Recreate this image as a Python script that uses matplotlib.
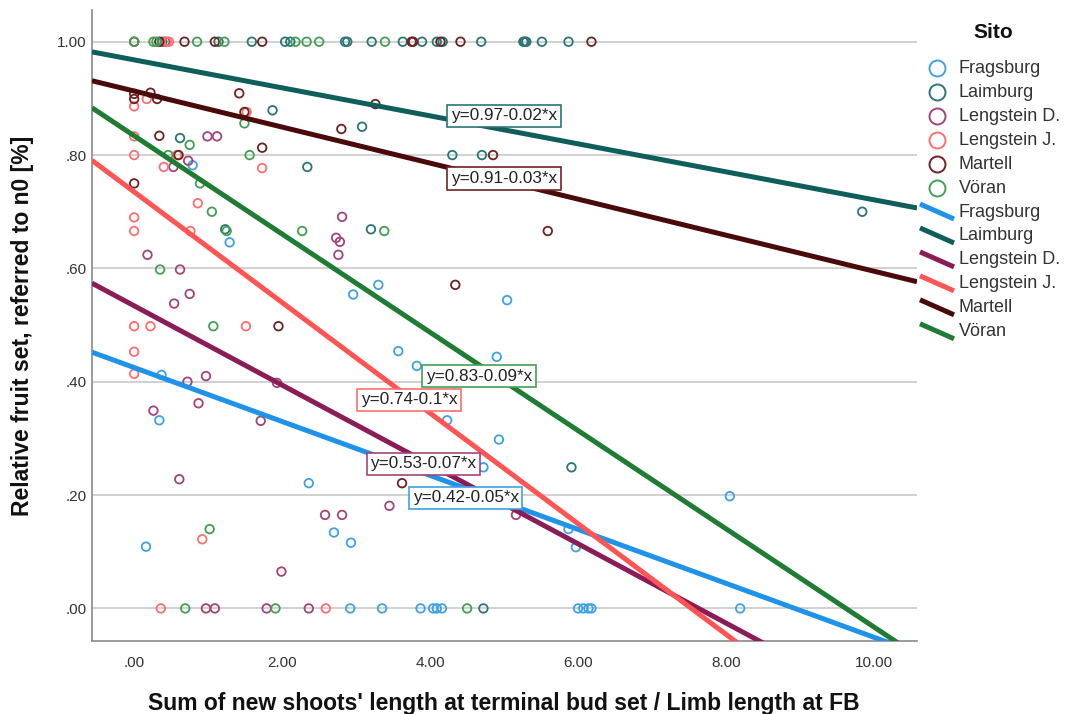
import matplotlib
matplotlib.use("Agg")
import matplotlib.pyplot as plt
from matplotlib.lines import Line2D
import numpy as np

plt.rcParams['font.family'] = ['Liberation Sans', 'DejaVu Sans']

# ---------------- data ----------------
sites = ["Fragsburg", "Laimburg", "Lengstein D.", "Lengstein J.", "Martell", "Vöran"]

frag_x = [0.79, 1.29, 3.30, 2.96, 5.04, 3.57, 3.82, 4.90, 0.37, 4.23, 0.34, 4.93, 4.72, 2.36,
          8.05, 5.87, 2.70, 2.93, 0.16, 5.97,
          2.92, 3.35, 3.87, 4.04, 4.09, 4.16, 6.00, 6.07, 6.14, 6.18, 8.19]
frag_y = [0.782, 0.646, 0.571, 0.554, 0.544, 0.454, 0.428, 0.444, 0.412, 0.332, 0.332, 0.298, 0.249, 0.221,
          0.198, 0.140, 0.134, 0.116, 0.109, 0.108,
          0, 0, 0, 0, 0, 0, 0, 0, 0, 0, 0]

laim_x = [0.38, 1.14, 1.59, 2.04, 2.11, 2.85, 2.88, 3.21, 3.63, 3.89, 4.09, 4.17, 4.69, 5.26, 5.28, 5.30, 5.51, 5.87,
          0.62, 1.87, 2.34, 3.08, 1.23, 3.20, 4.30, 4.70, 5.91, 9.84, 4.72]
laim_y = [1, 1, 1, 1, 1, 1, 1, 1, 1, 1, 1, 1, 1, 1, 1, 1, 1, 1,
          0.830, 0.879, 0.779, 0.850, 0.669, 0.669, 0.800, 0.800, 0.249, 0.700, 0]

lengd_x = [0.99, 1.12, 0.53, 0.73, 2.73, 2.78, 2.81, 2.76, 0.18, 0.62, 0.75, 0.54, 0.72, 0.97, 1.93, 0.87,
           0.26, 1.71, 0.61, 2.58, 2.81, 1.99, 3.45, 5.16, 0.42, 0.97, 1.09, 1.79, 2.36]
lengd_y = [0.833, 0.833, 0.779, 0.790, 0.654, 0.647, 0.691, 0.624, 0.624, 0.598, 0.555, 0.538, 0.400, 0.410,
           0.398, 0.362, 0.349, 0.331, 0.228, 0.165, 0.165, 0.065, 0.181, 0.165, 1, 0, 0, 0, 0]

lengj_x = [0.00, 0.17, 0.00, 1.52, 1.73, 0.00, 0.00, 0.00, 0.40, 0.58, 0.86, 0.76, 0.00, 0.22, 1.51, 0.00,
           0.00, 0.92, 0.44, 0.47, 0.36, 2.59]
lengj_y = [0.886, 0.899, 0.833, 0.876, 0.777, 0.800, 0.690, 0.666, 0.779, 0.800, 0.715, 0.666, 0.498, 0.498,
           0.498, 0.453, 0.414, 0.122, 1, 1, 0, 0]

mart_x = [0.00, 0.00, 0.22, 0.31, 0.34, 1.42, 1.49, 1.73, 2.80, 3.26, 0.00, 0.60, 4.85, 5.59, 1.95, 4.34, 3.62,
          0.00, 0.34, 0.68, 1.09, 1.73, 3.75, 3.77, 4.14, 4.41, 6.18]
mart_y = [0.908, 0.899, 0.910, 0.899, 0.834, 0.909, 0.876, 0.813, 0.846, 0.890, 0.750, 0.800, 0.800, 0.666,
          0.498, 0.571, 0.221, 1, 1, 1, 1, 1, 1, 1, 1, 1, 1]

vora_x = [0.75, 1.49, 1.56, 0.46, 0.89, 1.05, 1.25, 2.27, 3.38, 0.35, 1.07, 1.02,
          0.00, 0.26, 0.30, 0.85, 1.22, 2.18, 2.33, 2.50, 3.39, 0.69, 1.91, 4.50]
vora_y = [0.818, 0.856, 0.800, 0.800, 0.750, 0.700, 0.666, 0.666, 0.666, 0.598, 0.498, 0.140,
          1, 1, 1, 1, 1, 1, 1, 1, 1, 0, 0, 0]

# fitted lines (intercept, slope) and their labels
fit_intercept = [0.425, 0.968, 0.534, 0.735, 0.913, 0.834]
fit_slope = [-0.0476, -0.0247, -0.0700, -0.0976, -0.0318, -0.0867]
fit_labels = ["y=0.42-0.05*x", "y=0.97-0.02*x", "y=0.53-0.07*x", "y=0.74-0.1*x", "y=0.91-0.03*x", "y=0.83-0.09*x"]

x_ticks = [0, 2, 4, 6, 8, 10]
x_ticklabels = [".00", "2.00", "4.00", "6.00", "8.00", "10.00"]
y_ticks = [0, 0.2, 0.4, 0.6, 0.8, 1.0]
y_ticklabels = [".00", ".20", ".40", ".60", ".80", "1.00"]

# ---------------- style / layout ----------------
marker_colors = ["#3da2e8", "#2b7676", "#a3447a", "#ff6e6e", "#6e2222", "#43a052"]
line_colors = ["#1f93ea", "#0e5e5c", "#8c1c58", "#ff5454", "#4a0a0a", "#1f7d33"]
label_pos = [(4.48, 0.195), (5.0, 0.869), (3.91, 0.255), (3.72, 0.368), (5.0, 0.759), (4.66, 0.410)]

W, H = 1065, 714
fig = plt.figure(figsize=(W / 100, H / 100), dpi=100)
ax = fig.add_axes([92 / W, 1 - 641 / H, 825 / W, 631 / H])

xmin, xmax = -0.57, 10.58
ymin, ymax = -0.0575, 1.056
ax.set_xlim(xmin, xmax)
ax.set_ylim(ymin, ymax)

for yt in y_ticks:
    ax.axhline(yt, color="#c9c9c9", lw=1.2, zorder=0)

xs_all = [frag_x, laim_x, lengd_x, lengj_x, mart_x, vora_x]
ys_all = [frag_y, laim_y, lengd_y, lengj_y, mart_y, vora_y]
for xs, ys, c in zip(xs_all, ys_all, marker_colors):
    ax.scatter(xs, ys, s=38, facecolors="none", edgecolors=c, linewidths=1.3, zorder=2)

xl = np.array([xmin, xmax])
for a, b, c in zip(fit_intercept, fit_slope, line_colors):
    ax.plot(xl, a + b * xl, color=c, lw=3.6, solid_capstyle="butt", zorder=3)

for (px, py), txt, ec in zip(label_pos, fit_labels, marker_colors):
    ax.text(px, py, txt, ha="center", va="center", fontsize=12.3, color="#222222", zorder=5,
            bbox=dict(boxstyle="square,pad=0.22", fc="white", ec=ec, lw=1.2))

ax.set_xticks(x_ticks)
ax.set_xticklabels(x_ticklabels)
ax.set_yticks(y_ticks)
ax.set_yticklabels(y_ticklabels)
ax.tick_params(axis="both", length=0, labelsize=11, labelcolor="#333333")
ax.tick_params(axis="x", pad=10.5)
ax.tick_params(axis="y", pad=4)

for s in ["top", "right"]:
    ax.spines[s].set_visible(False)
for s in ["left", "bottom"]:
    ax.spines[s].set_color("#8a8a8a")
    ax.spines[s].set_linewidth(1.2)

ax.set_xlabel("Sum of new shoots' length at terminal bud set / Limb length at FB",
              fontsize=16.5, fontweight="bold", color="#111111", va="baseline")
ax.set_ylabel("Relative fruit set, referred to n0 [%]", fontsize=16.5, fontweight="bold",
              color="#111111", va="center")
ax.xaxis.set_label_coords((504 - 92) / 825, (641 - 710) / 631)
ax.yaxis.set_label_coords((23 - 92) / 825, 0.5)

# ---------------- legend (drawn in figure pixels) ----------------
def fx(p):
    return p / W

def fy(p):
    return 1 - p / H

fig.text(fx(993), fy(33), "Sito", ha="center", va="center", fontsize=15, fontweight="bold", color="#111111")
row0, step = 68.3, 23.95
for i, (name, mc) in enumerate(zip(sites, marker_colors)):
    yy = row0 + step * i
    fig.add_artist(Line2D([fx(937)], [fy(yy)], marker="o", markersize=11.5, markerfacecolor="none",
                          markeredgecolor=mc, markeredgewidth=1.4, linestyle="none"))
    fig.text(fx(959), fy(yy), name, ha="left", va="center", fontsize=13, color="#333333")
for i, (name, lc) in enumerate(zip(sites, line_colors)):
    yy = row0 + step * (i + 6)
    fig.add_artist(Line2D([fx(920), fx(954)], [fy(yy - 8), fy(yy + 7)], color=lc, lw=3.6,
                          solid_capstyle="butt"))
    fig.text(fx(959), fy(yy), name, ha="left", va="center", fontsize=13, color="#333333")

fig.savefig("out.png", dpi=100)
